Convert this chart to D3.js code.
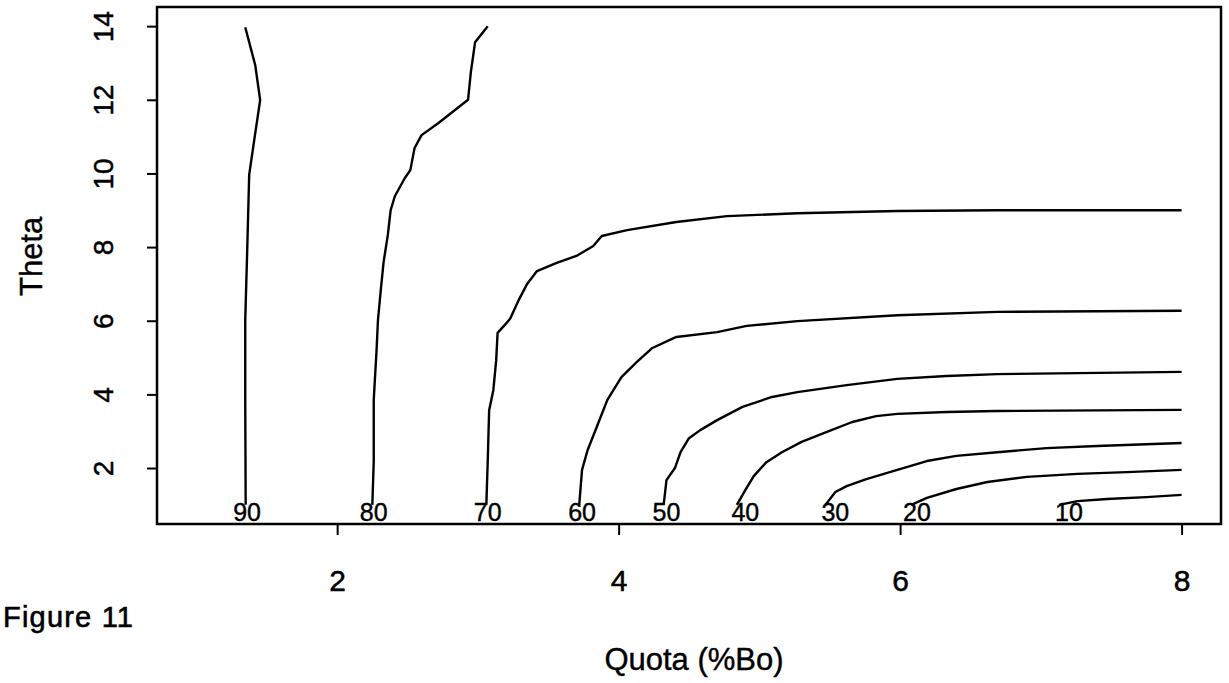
<!DOCTYPE html>
<html>
<head>
<meta charset="utf-8">
<script src="https://cdn.jsdelivr.net/npm/d3@7"></script>
<style>
  body { margin: 0; background: #fff; }
  text { font-family: "Liberation Sans", Arial, sans-serif; fill: #000; }
</style>
</head>
<body>
<div id="chart"></div>
<script>
const width = 1229;
const height = 683;
const margin = { top: 7, right: 7, bottom: 159, left: 157 };

// contour levels, each line is a list of [quota, theta]
const levels = [90, 80, 70, 60, 50, 40, 30, 20, 10];

const c90 = [[1.35, 1.0], [1.347, 3.85], [1.347, 6.02], [1.361, 7.92], [1.375, 9.96], [1.411, 10.91], [1.453, 11.99], [1.418, 12.94], [1.347, 13.97]];
const c80 = [[2.25, 1.0], [2.26, 2.2], [2.26, 3.85], [2.28, 5.2], [2.29, 6.02], [2.31, 6.83], [2.33, 7.59], [2.36, 8.33], [2.38, 9.0], [2.41, 9.38], [2.48, 9.87], [2.52, 10.09], [2.55, 10.69], [2.60, 11.04], [2.72, 11.37], [2.93, 12.0], [2.95, 12.75], [2.98, 13.56], [3.07, 14.0]];
const c70 = [[3.06, 1.0], [3.07, 2.2], [3.08, 3.57], [3.11, 4.12], [3.13, 4.93], [3.14, 5.67], [3.19, 5.88], [3.23, 6.06], [3.29, 6.56], [3.35, 7.0], [3.42, 7.35], [3.56, 7.57], [3.70, 7.76], [3.82, 8.03], [3.88, 8.30], [4.06, 8.46], [4.41, 8.68], [4.77, 8.84], [5.27, 8.92], [5.98, 8.98], [6.69, 9.0], [8.0, 9.0]];
const c60 = [[3.72, 1.0], [3.74, 1.95], [3.78, 2.49], [3.85, 3.17], [3.92, 3.85], [4.02, 4.47], [4.13, 4.88], [4.24, 5.26], [4.41, 5.56], [4.70, 5.69], [4.91, 5.86], [5.27, 5.99], [5.98, 6.15], [6.69, 6.24], [8.0, 6.27]];
const c50 = [[4.32, 1.0], [4.34, 1.67], [4.40, 2.0], [4.44, 2.43], [4.50, 2.81], [4.58, 3.03], [4.70, 3.30], [4.88, 3.66], [5.09, 3.93], [5.27, 4.06], [5.62, 4.25], [5.98, 4.42], [6.33, 4.50], [6.69, 4.55], [8.0, 4.61]];
const c40 = [[4.84, 1.0], [4.90, 1.40], [4.96, 1.78], [5.05, 2.16], [5.16, 2.43], [5.30, 2.71], [5.48, 2.98], [5.66, 3.25], [5.83, 3.41], [5.98, 3.47], [6.33, 3.52], [6.69, 3.55], [8.0, 3.58]];
const c30 = [[5.47, 1.0], [5.54, 1.35], [5.62, 1.51], [5.76, 1.70], [5.98, 1.95], [6.19, 2.19], [6.40, 2.33], [6.69, 2.43], [7.04, 2.54], [7.40, 2.60], [8.0, 2.68]];
const c20 = [[6.08, 1.0], [6.19, 1.19], [6.40, 1.43], [6.62, 1.62], [6.90, 1.76], [7.26, 1.84], [7.61, 1.89], [8.0, 1.95]];
const c10 = [[7.13, 1.0], [7.26, 1.10], [7.47, 1.16], [7.75, 1.21], [8.0, 1.27]];
const contours = [c90, c80, c70, c60, c50, c40, c30, c20, c10];

// where each level's label sits along the bottom edge
const labelX = [1.36, 2.26, 3.07, 3.74, 4.34, 4.90, 5.54, 6.12, 7.20];

const xTicks = [2, 4, 6, 8];
const yTicks = [2, 4, 6, 8, 10, 12, 14];

const plotW = width - margin.left - margin.right - 1;
const plotH = height - margin.top - margin.bottom;

const svg = d3.select("#chart")
  .append("svg")
  .attr("width", width)
  .attr("height", height);

const g = svg.append("g")
  .attr("transform", `translate(${margin.left}, ${margin.top})`);

const x = d3.scaleLinear().domain([0.72, 8.28]).range([0, plotW]);
const y = d3.scaleLinear().domain([0.48, 14.52]).range([plotH, 0]);

const xAxis = d3.axisBottom(x).tickValues(xTicks).tickSize(11).tickSizeOuter(0).tickPadding(36);
const yAxis = d3.axisLeft(y).tickValues(yTicks).tickSize(10).tickSizeOuter(0);

const gx = g.append("g")
  .attr("transform", `translate(0, ${plotH})`)
  .call(xAxis);
gx.select(".domain").remove();
gx.selectAll("line").attr("stroke", "#000").attr("stroke-width", 2);
gx.selectAll("text")
  .attr("dy", "0.68em")
  .style("font-size", "30px")
  .attr("stroke", "#000").attr("stroke-width", 0.5);

const gy = g.append("g").call(yAxis);
gy.select(".domain").remove();
gy.selectAll("line").attr("stroke", "#000").attr("stroke-width", 2);
gy.selectAll("text")
  .attr("x", null).attr("dy", null)
  .attr("text-anchor", "middle")
  .attr("transform", "translate(-44, 0) rotate(-90)")
  .style("font-size", "28px")
  .attr("stroke", "#000").attr("stroke-width", 0.5);

// frame
g.append("rect")
  .attr("x", 0)
  .attr("y", 0)
  .attr("width", plotW)
  .attr("height", plotH)
  .attr("fill", "none")
  .attr("stroke", "#000")
  .attr("stroke-width", 2.5);

const line = d3.line()
  .x(d => x(d[0]))
  .y(d => y(d[1]));

g.selectAll(".contour")
  .data(contours)
  .join("path")
  .attr("class", "contour")
  .attr("d", line)
  .attr("fill", "none")
  .attr("stroke", "#000")
  .attr("stroke-width", 2.4)
  .attr("stroke-linejoin", "round");

g.selectAll(".clabel")
  .data(levels)
  .join("text")
  .attr("class", "clabel")
  .attr("x", (d, i) => x(labelX[i]))
  .attr("y", y(0.55))
  .attr("text-anchor", "middle")
  .style("font-size", "25px")
  .attr("stroke", "#000").attr("stroke-width", 0.4)
  .text(d => d);

svg.append("text")
  .attr("transform", `translate(42, ${margin.top + y(7.75)}) rotate(-90)`)
  .attr("text-anchor", "middle")
  .style("font-size", "31px")
  .attr("stroke", "#000").attr("stroke-width", 0.4)
  .text("Theta");

svg.append("text")
  .attr("x", 694)
  .attr("y", 670)
  .attr("text-anchor", "middle")
  .style("font-size", "31px")
  .attr("stroke", "#000").attr("stroke-width", 0.4)
  .text("Quota (%Bo)");

svg.append("text")
  .attr("x", 3)
  .attr("y", 627)
  .style("font-size", "29px")
  .attr("letter-spacing", "1.2px")
  .attr("stroke", "#000").attr("stroke-width", 0.6)
  .text("Figure 11");
</script>
</body>
</html>
